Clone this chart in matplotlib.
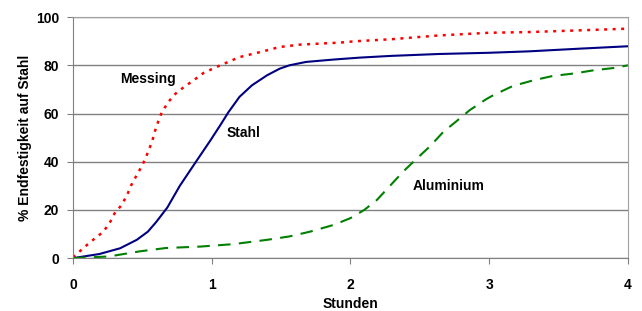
import numpy as np
import matplotlib.pyplot as plt

# Werte (Stunden, % Endfestigkeit)
stahl_x = [0.0, 0.19, 0.34, 0.46, 0.54, 0.60, 0.68, 0.77, 0.89, 0.99, 1.06, 1.12, 1.20,
           1.29, 1.40, 1.49, 1.56, 1.68, 1.88, 2.07, 2.29, 2.64, 3.0, 3.29, 3.65, 4.0]
stahl_y = [0.0, 1.7, 4.1, 7.6, 11.0, 15.0, 21.0, 30.0, 40.3, 48.8, 55.0, 60.5, 66.9,
           71.7, 75.9, 78.6, 80.0, 81.4, 82.4, 83.2, 83.9, 84.7, 85.2, 85.8, 86.9, 87.9]

messing_x = [0.0, 0.087, 0.16, 0.22, 0.27, 0.30, 0.35, 0.39, 0.42, 0.46, 0.50, 0.53, 0.57,
             0.60, 0.64, 0.69, 0.74, 0.80, 0.87, 0.94, 1.05, 1.20, 1.35, 1.49, 1.64, 1.78,
             1.92, 2.04, 2.29, 2.64, 3.0, 3.29, 3.65, 4.0]
messing_y = [0.3, 4.8, 8.3, 11.0, 15.2, 18.6, 22.0, 26.2, 30.3, 34.5, 38.6, 42.5, 48.3,
             54.5, 60.5, 65.0, 68.3, 71.0, 73.8, 76.8, 79.7, 83.4, 85.5, 87.6, 88.6, 89.0,
             89.4, 90.0, 90.8, 92.4, 93.5, 93.8, 94.5, 95.2]

alu_x = [0.0, 0.26, 0.48, 0.67, 0.92, 1.155, 1.40, 1.56, 1.71, 1.88, 2.0, 2.10, 2.19, 2.29,
         2.38, 2.48, 2.57, 2.67, 2.76, 2.86, 2.98, 3.03, 3.17, 3.32, 3.46, 3.61, 3.75, 3.90, 4.0]
alu_y = [0.0, 0.7, 2.8, 4.2, 4.8, 5.8, 7.6, 9.0, 11.0, 13.8, 16.6, 20.0, 24.1, 30.3,
         35.9, 41.4, 46.2, 52.4, 56.6, 61.4, 66.0, 67.6, 71.4, 73.8, 75.6, 76.6, 77.9, 78.9, 80.0]

plt.rcParams['font.family'] = ['Liberation Sans', 'DejaVu Sans']
plt.rcParams['font.weight'] = 'bold'
plt.rcParams['font.size'] = 10

fig = plt.figure(figsize=(6.42, 3.11), dpi=100)
ax = fig.add_axes([0.1137, 0.170, 0.8643, 0.775])

ax.plot(messing_x, messing_y, color='#FF0000', linestyle=(0, (1.2, 2.2)), linewidth=1.8)
ax.plot(stahl_x, stahl_y, color='#000080', linestyle='-', linewidth=1.5)
ax.plot(alu_x, alu_y, color='#008000', linestyle=(0, (6, 4)), linewidth=1.5)

ax.text(0.54, 74.3, 'Messing', ha='center', va='center', fontweight='bold')
ax.text(1.23, 51.9, 'Stahl', ha='center', va='center', fontweight='bold')
ax.text(2.71, 29.9, 'Aluminium', ha='center', va='center', fontweight='bold')

ax.set_xlim(0, 4)
ax.set_ylim(0, 100)
ax.set_xticks([0, 1, 2, 3, 4])
ax.set_yticks([0, 20, 40, 60, 80, 100])
ax.yaxis.grid(True, color='#808080', linewidth=1)
ax.set_axisbelow(True)

for s in ['top', 'right']:
    ax.spines[s].set_color('#a0a0a0')
ax.spines['left'].set_color('#808080')
ax.spines['bottom'].set_color('#808080')
ax.tick_params(axis='both', colors='#808080', labelcolor='black', length=4)
ax.tick_params(axis='x', pad=10)
ax.tick_params(axis='y', pad=6)

ax.set_xlabel('Stunden', fontweight='bold', labelpad=4)
ax.set_ylabel('% Endfestigkeit auf Stahl', fontweight='bold', labelpad=3)

plt.savefig('out.png', dpi=100)
